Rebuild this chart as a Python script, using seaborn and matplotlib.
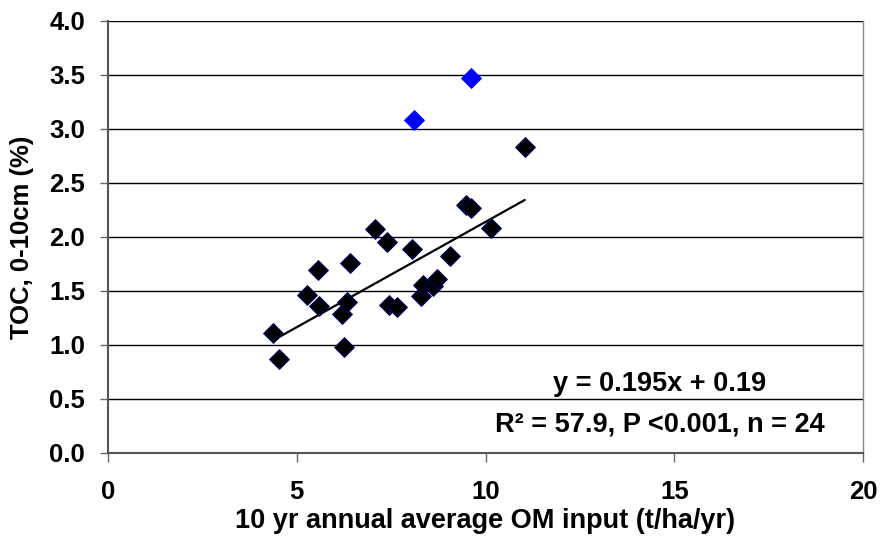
import seaborn as sns
import matplotlib.pyplot as plt
import pandas as pd
import numpy as np

# -------------------------
# Data
# -------------------------

om_input = [4.38, 4.52, 5.26, 5.55, 5.59, 6.41, 6.19, 6.32, 6.25, 7.08, 7.39, 7.45,
            7.65, 8.05, 8.29, 8.35, 8.60, 8.72, 9.07, 9.48, 9.62, 10.15, 11.04]
toc = [1.11, 0.87, 1.46, 1.69, 1.36, 1.76, 1.29, 1.40, 0.98, 2.07, 1.95, 1.37,
       1.35, 1.89, 1.45, 1.56, 1.55, 1.61, 1.82, 2.30, 2.27, 2.08, 2.83]

# outliers shown in blue
om_input_out = [8.11, 9.61]
toc_out = [3.08, 3.47]

slope = 0.195
intercept = 0.19

x_ticks = [0, 5, 10, 15, 20]
y_ticks = [0.0, 0.5, 1.0, 1.5, 2.0, 2.5, 3.0, 3.5, 4.0]

df = pd.DataFrame({
    "OM": om_input + om_input_out,
    "TOC": toc + toc_out,
    "group": ["fit"] * len(om_input) + ["outlier"] * len(om_input_out),
})

# -------------------------
# Styling
# -------------------------

sns.set_style("white")
plt.rcParams["font.family"] = ["Liberation Sans", "DejaVu Sans"]
plt.rcParams["font.weight"] = "bold"
plt.rcParams["text.color"] = "black"
plt.rcParams["axes.labelcolor"] = "black"

fig = plt.figure(figsize=(8.8, 5.4), dpi=100)
ax = fig.add_axes([108 / 880, 1 - 453 / 540, 755 / 880, 432 / 540])

for y in y_ticks:
    ax.axhline(y, color="black", lw=1.0, zorder=0)

sns.scatterplot(
    data=df[df["group"] == "fit"], x="OM", y="TOC", marker="D", s=100,
    color="black", edgecolor="#000060", linewidth=0.8, ax=ax, zorder=3,
)
sns.scatterplot(
    data=df[df["group"] == "outlier"], x="OM", y="TOC", marker="D", s=100,
    color="#0000FF", edgecolor="#0000FF", linewidth=0.8, ax=ax, zorder=3,
)

# trend line over the range of the fitted points
xf = np.array([min(om_input), max(om_input)])
ax.plot(xf, slope * xf + intercept, color="black", lw=1.6, zorder=2)

ax.set_xlim(0, 20)
ax.set_ylim(0, 4)
ax.set_xticks(x_ticks)
ax.set_yticks(y_ticks)
ax.set_yticklabels([f"{v:.1f}" for v in y_ticks])

ax.tick_params(axis="x", direction="out", length=6.5, width=1, color="#666666",
               labelcolor="black", pad=13, labelsize=18.5)
ax.tick_params(axis="y", direction="out", length=6, width=1, color="#666666",
               labelcolor="black", pad=10.5, labelsize=18.5)
ax.tick_params(bottom=True, left=True)

for side in ["left", "bottom"]:
    ax.spines[side].set_color("#555555")
    ax.spines[side].set_linewidth(1.5)
ax.spines["right"].set_color("#888888")
ax.spines["right"].set_linewidth(1.0)
ax.spines["top"].set_visible(False)

ax.set_xlabel("10 yr annual average OM input (t/ha/yr)", fontsize=19.5,
              fontweight="bold", labelpad=3)
ax.set_ylabel("TOC, 0-10cm (%)", fontsize=18.5, fontweight="bold", labelpad=11)

fig.text(660 / 880, 1 - 384 / 540, f"y = {slope}x + {intercept}",
         fontsize=19.5, fontweight="bold", ha="center", va="center")
fig.text(660 / 880, 1 - 424 / 540, "R² = 57.9, P <0.001, n = 24",
         fontsize=19.5, fontweight="bold", ha="center", va="center")

fig.savefig("out.png", dpi=100)
plt.close(fig)
